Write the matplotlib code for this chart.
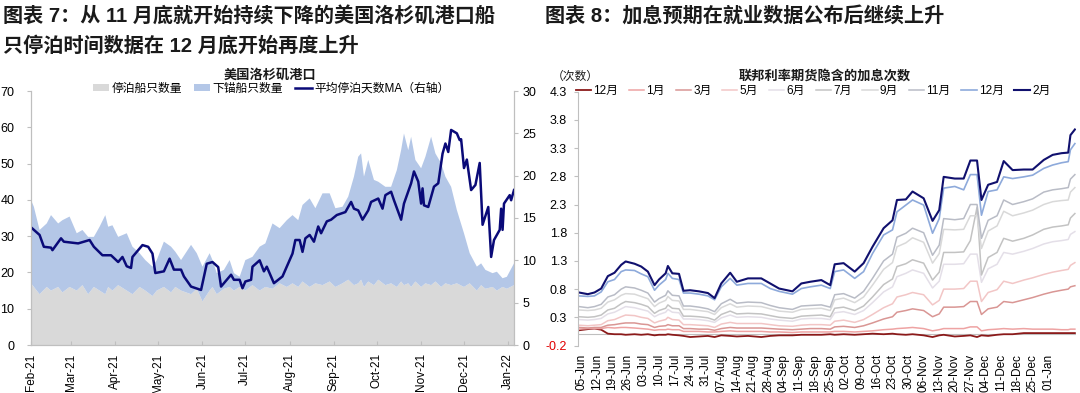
import matplotlib
matplotlib.use("Agg")
import matplotlib.pyplot as plt
import matplotlib.dates as mdates
from matplotlib.patches import Patch
from matplotlib.lines import Line2D
import numpy as np
import pandas as pd

plt.rcParams['font.family'] = ['Liberation Sans', 'Noto Sans CJK SC']
plt.rcParams['axes.unicode_minus'] = False

# ---------------- Left chart data: 美国洛杉矶港口 ----------------
area_dates = ['2021-02-01', '2021-02-03', '2021-02-07', '2021-02-12', '2021-02-15', '2021-02-20', '2021-02-23',
              '2021-02-28', '2021-03-05', '2021-03-09', '2021-03-13', '2021-03-17', '2021-03-21', '2021-03-25',
              '2021-03-27', '2021-03-30', '2021-04-03', '2021-04-09', '2021-04-13', '2021-04-18', '2021-04-22',
              '2021-04-27', '2021-04-30', '2021-05-05', '2021-05-10', '2021-05-13', '2021-05-17', '2021-05-24',
              '2021-05-28', '2021-06-01', '2021-06-06', '2021-06-08', '2021-06-11', '2021-06-16', '2021-06-20',
              '2021-06-23', '2021-06-27', '2021-07-01', '2021-07-06', '2021-07-11', '2021-07-15', '2021-07-20',
              '2021-07-25', '2021-07-30', '2021-08-03', '2021-08-07', '2021-08-10', '2021-08-15', '2021-08-19',
              '2021-08-24', '2021-08-29', '2021-09-02', '2021-09-07', '2021-09-11', '2021-09-15', '2021-09-18',
              '2021-09-20', '2021-09-22', '2021-09-25', '2021-09-29', '2021-10-02', '2021-10-07', '2021-10-11',
              '2021-10-15', '2021-10-18', '2021-10-20', '2021-10-23', '2021-10-25', '2021-10-28', '2021-11-01',
              '2021-11-04', '2021-11-08', '2021-11-11', '2021-11-15', '2021-11-18', '2021-11-22', '2021-11-26',
              '2021-12-01', '2021-12-05', '2021-12-10', '2021-12-13', '2021-12-16', '2021-12-21', '2021-12-24',
              '2021-12-28', '2021-12-31', '2022-01-05']
berthed = [17, 16, 14, 16, 15, 16, 14.5,
           16, 15, 16.5, 14, 16, 15, 14,
           16, 15, 16.5, 15, 14, 16, 15,
           13.5, 15, 16, 14.5, 16, 15, 14,
           15.5, 12, 15, 16, 14, 15.5, 16,
           15, 16, 15, 16.5, 15, 16, 15.5,
           17, 16, 17, 16, 17.5, 16, 17,
           16.5, 17.5, 16, 17, 18, 16.5, 17,
           18, 16, 17.5, 16.5, 18, 16.5, 17,
           16, 17.5, 16.5, 17, 16, 17.5, 16,
           17, 16.5, 17.5, 16, 17, 16.5, 17,
           16, 17, 15, 16.5, 15.5, 16, 15,
           16, 15.5, 16.5]
anchored = [23.0, 22.1, 17.7, 17.5, 20.8, 17.5, 19.9,
            19.4, 15.8, 15.2, 15.8, 13.8, 17.6, 21.8,
            16.6, 18.0, 13.3, 15.8, 13.1, 9.3, 8.4,
            8.1, 8.4, 12.5, 12.6, 9.7, 8.4, 13.6,
            9.8, 9.6, 10.3, 7.4, 5.8, 5.2, 7.4,
            4.8, 2.8, 8.4, 7.8, 12.1, 12.0, 18.0,
            15.2, 18.4, 18.8, 18.4, 21.1, 24.4, 20.7,
            25.3, 24.3, 21.7, 21.1, 22.9, 29.9, 34.9,
            34.8, 30.4, 33.5, 29.0, 27.0, 27.1, 26.6,
            32.2, 36.2, 41.8, 36.7, 41.4, 33.5, 32.7,
            34.9, 40.9, 35.3, 34.1, 29.4, 27.1, 20.2,
            14.8, 8.3, 6.6, 6.0, 5.2, 3.8, 5.2,
            2.4, 3.3, 6.0]

ma_dates = ['2021-02-01', '2021-02-07', '2021-02-10', '2021-02-15', '2021-02-16', '2021-02-22', '2021-02-24',
            '2021-03-06', '2021-03-14', '2021-03-17', '2021-03-23', '2021-03-29', '2021-04-03', '2021-04-06',
            '2021-04-09', '2021-04-12', '2021-04-13', '2021-04-20', '2021-04-24', '2021-04-27', '2021-04-29',
            '2021-05-05', '2021-05-09', '2021-05-12', '2021-05-17', '2021-05-19', '2021-05-24', '2021-05-31',
            '2021-06-04', '2021-06-08', '2021-06-12', '2021-06-14', '2021-06-21', '2021-06-23', '2021-06-27',
            '2021-06-29', '2021-07-01', '2021-07-05', '2021-07-06', '2021-07-11', '2021-07-14', '2021-07-16',
            '2021-07-21', '2021-07-27', '2021-08-03', '2021-08-05', '2021-08-08', '2021-08-10', '2021-08-12',
            '2021-08-15', '2021-08-18', '2021-08-21', '2021-08-23', '2021-08-27', '2021-08-30', '2021-09-03',
            '2021-09-09', '2021-09-13', '2021-09-15', '2021-09-18', '2021-09-21', '2021-09-25', '2021-09-27',
            '2021-10-02', '2021-10-05', '2021-10-07', '2021-10-11', '2021-10-13', '2021-10-18', '2021-10-20',
            '2021-10-25', '2021-10-27', '2021-10-30', '2021-11-01', '2021-11-02', '2021-11-03', '2021-11-06',
            '2021-11-10', '2021-11-13', '2021-11-16', '2021-11-18', '2021-11-20', '2021-11-22', '2021-11-26',
            '2021-11-28', '2021-11-29', '2021-12-01', '2021-12-03', '2021-12-06', '2021-12-09', '2021-12-12',
            '2021-12-14', '2021-12-18', '2021-12-20', '2021-12-22', '2021-12-26', '2021-12-27', '2021-12-28',
            '2021-12-29', '2022-01-02', '2022-01-03', '2022-01-05']
ma_days = [13.9, 13.0, 11.6, 11.5, 11.2, 12.6, 12.2,
           12.0, 12.4, 11.6, 10.6, 10.6, 9.8, 10.4,
           9.3, 9.1, 10.4, 11.8, 11.6, 10.8, 8.5,
           8.7, 10.2, 8.9, 8.9, 8.1, 6.9, 6.5,
           9.6, 9.8, 9.2, 6.9, 8.3, 7.7, 7.7,
           6.7, 7.5, 7.7, 9.25, 10.0, 8.7, 9.25,
           7.3, 8.1, 10.8, 12.4, 12.4, 11.0, 12.6,
           13.0, 12.2, 14.0, 13.2, 14.6, 14.8, 15.35,
           15.7, 16.9, 16.1, 15.9, 14.8, 15.9, 16.9,
           17.3, 16.1, 17.7, 18.1, 17.1, 14.8, 16.7,
           19.1, 20.5, 19.3, 16.7, 18.5, 16.5, 16.3,
           18.7, 19.1, 22.6, 23.8, 22.8, 25.4, 25.0,
           24.2, 24.3, 20.9, 21.9, 18.3, 18.9, 21.5,
           14.2, 16.3, 10.4, 12.4, 13.6, 16.1, 13.6,
           16.7, 17.7, 17.1, 18.3]

left_labels = ['停泊船只数量', '下锚船只数量', '平均停泊天数MA（右轴）']

# ---------------- Right chart data: 联邦利率期货隐含的加息次数 ----------------
r_dates = ['2021-06-04', '2021-06-08', '2021-06-11', '2021-06-14', '2021-06-17', '2021-06-20', '2021-06-23',
           '2021-06-25', '2021-06-29', '2021-07-02', '2021-07-05', '2021-07-08', '2021-07-10', '2021-07-13',
           '2021-07-14', '2021-07-16', '2021-07-19', '2021-07-21', '2021-07-24', '2021-07-28', '2021-08-01',
           '2021-08-04', '2021-08-07', '2021-08-11', '2021-08-14', '2021-08-19', '2021-08-25', '2021-08-29',
           '2021-09-02', '2021-09-08', '2021-09-12', '2021-09-16', '2021-09-21', '2021-09-25', '2021-09-27',
           '2021-10-01', '2021-10-06', '2021-10-10', '2021-10-14', '2021-10-19', '2021-10-23', '2021-10-25',
           '2021-10-29', '2021-11-01', '2021-11-06', '2021-11-10', '2021-11-13', '2021-11-15', '2021-11-20',
           '2021-11-24', '2021-11-27', '2021-11-30', '2021-12-02', '2021-12-05', '2021-12-09', '2021-12-12',
           '2021-12-16', '2021-12-21', '2021-12-25', '2021-12-30', '2022-01-03', '2022-01-07', '2022-01-10',
           '2022-01-11', '2022-01-13']
hike_dec21 = [.07, .09, .10, .08, .01, .00, .00, -.01, .00, -.01,
              .00, -.02, -.01, -.01, .00, -.01, -.02, -.03, -.05, -.04,
              -.03, -.05, -.02, -.03, -.04, -.03, -.05, -.03, -.02, -.02,
              -.01, -.01, -.01, .00, -.01, .00, -.01, .00, .01, .00,
              .01, .00, -.01, .00, -.02, -.05, -.02, -.01, -.04, -.03,
              -.02, -.05, -.02, -.03, -.01, .00, .00, .02, .02, .02,
              .02, .02, .02, .02, .02]
hike_jan22 = [.09, .10, .10, .10, .12, .11, .12, .12, .11, .10,
              .09, .07, .08, .08, .09, .08, .08, .05, .05, .05,
              .04, .04, .05, .06, .05, .05, .05, .04, .04, .03,
              .04, .04, .04, .04, .05, .05, .04, .05, .06, .08,
              .09, .10, .11, .12, .10, .06, .08, .10, .10, .10,
              .13, .13, .06, .08, .09, .10, .09, .10, .09, .09,
              .09, .08, .08, .09, .09]
hike_mar22 = [.12, .11, .12, .12, .16, .17, .19, .20, .20, .18,
              .17, .12, .14, .15, .17, .15, .15, .10, .10, .09,
              .09, .07, .10, .12, .11, .11, .11, .10, .09, .08,
              .09, .10, .10, .09, .13, .14, .12, .15, .20, .27,
              .31, .39, .42, .45, .42, .31, .36, .48, .48, .49,
              .58, .58, .35, .45, .48, .58, .56, .61, .65, .71,
              .75, .78, .80, .84, .86]
hike_may22 = [.16, .15, .16, .17, .24, .26, .31, .34, .33, .30,
              .28, .20, .23, .26, .30, .26, .25, .17, .17, .16,
              .15, .12, .18, .21, .19, .19, .19, .17, .15, .14,
              .16, .17, .17, .16, .23, .25, .21, .26, .35, .47,
              .54, .66, .70, .74, .70, .52, .60, .80, .80, .81,
              .94, .94, .58, .74, .79, .94, .90, .96, 1.00, 1.06,
              1.10, 1.13, 1.15, 1.22, 1.27]
hike_jun22 = [.26, .25, .26, .28, .36, .39, .45, .49, .47, .44,
              .41, .31, .35, .39, .44, .39, .38, .27, .27, .26,
              .24, .21, .29, .34, .30, .31, .30, .27, .25, .23,
              .27, .28, .28, .26, .38, .40, .35, .42, .56, .75,
              .84, 1.02, 1.08, 1.14, 1.08, .82, .94, 1.24, 1.24, 1.25,
              1.42, 1.42, .92, 1.16, 1.24, 1.45, 1.42, 1.47, 1.52, 1.60,
              1.64, 1.66, 1.68, 1.77, 1.82]
hike_jul22 = [.31, .30, .31, .34, .43, .46, .54, .58, .56, .53,
              .49, .37, .42, .46, .52, .46, .45, .32, .32, .31,
              .29, .25, .35, .41, .36, .37, .36, .33, .30, .28,
              .32, .33, .34, .31, .46, .48, .42, .50, .66, .88,
              .98, 1.20, 1.25, 1.32, 1.26, .96, 1.10, 1.45, 1.45, 1.46,
              1.66, 2.25, 1.05, 1.36, 1.45, 1.70, 1.65, 1.70, 1.76, 1.86,
              1.90, 1.92, 1.94, 2.06, 2.14]
hike_sep22 = [.43, .42, .43, .46, .57, .61, .69, .72, .71, .67,
              .63, .49, .55, .60, .67, .60, .59, .44, .44, .42,
              .40, .35, .47, .54, .48, .50, .49, .45, .41, .39,
              .44, .45, .46, .42, .61, .64, .56, .66, .87, 1.15,
              1.27, 1.55, 1.62, 1.71, 1.63, 1.26, 1.43, 1.86, 1.85, 1.86,
              2.10, 2.10, 1.52, 1.83, 1.92, 2.18, 2.10, 2.15, 2.20, 2.30,
              2.35, 2.37, 2.38, 2.52, 2.60]
hike_nov22 = [.49, .47, .49, .53, .66, .70, .80, .84, .82, .78,
              .73, .57, .63, .69, .77, .69, .68, .50, .50, .48,
              .45, .40, .54, .62, .55, .57, .56, .51, .47, .44,
              .50, .51, .52, .48, .70, .72, .64, .76, .99, 1.30,
              1.42, 1.72, 1.79, 1.88, 1.80, 1.40, 1.58, 2.05, 2.03, 2.05,
              2.30, 2.30, 1.70, 2.02, 2.10, 2.38, 2.30, 2.35, 2.40, 2.52,
              2.56, 2.58, 2.60, 2.75, 2.83]
hike_dec22 = [.68, .67, .68, .75, .93, .97, 1.11, 1.14, 1.13, 1.07,
              1.02, .78, .87, .97, 1.08, .99, .97, .73, .73, .71,
              .68, .61, .84, .99, .87, .90, .90, .81, .76, .71,
              .81, .84, .87, .81, 1.11, 1.14, .99, 1.11, 1.43, 1.76,
              1.85, 2.17, 2.29, 2.38, 2.29, 1.79, 2.05, 2.59, 2.62, 2.56,
              2.83, 2.83, 2.11, 2.53, 2.56, 2.79, 2.76, 2.79, 2.82, 2.94,
              3.00, 3.04, 3.06, 3.27, 3.38]
hike_feb23 = [.74, .71, .74, .81, 1.03, 1.09, 1.23, 1.29, 1.25, 1.20,
              1.11, .87, .97, 1.08, 1.21, 1.08, 1.07, .77, .78, .76,
              .73, .64, .90, 1.09, .93, .99, .99, .90, .81, .76,
              .90, .93, .96, .87, 1.24, 1.26, 1.11, 1.26, 1.55, 1.88,
              2.02, 2.38, 2.39, 2.53, 2.41, 2.01, 2.20, 2.79, 2.76, 2.76,
              3.08, 3.08, 2.38, 2.65, 2.70, 3.07, 2.91, 2.92, 2.92, 3.09,
              3.18, 3.21, 3.22, 3.53, 3.63]
right_labels = ['12月', '1月', '3月', '5月', '6月', '7月', '9月', '11月', '12月', '2月']
right_series = [hike_dec21, hike_jan22, hike_mar22, hike_may22, hike_jun22,
                hike_jul22, hike_sep22, hike_nov22, hike_dec22, hike_feb23]
right_colors = ['#8b1a1a', '#eea3a3', '#d99694', '#f2c6c6', '#e4dfe8',
                '#c3c3c3', '#d9d9d9', '#b9bcc6', '#8eaadb', '#10106e']
right_widths = [1.3, 1.1, 1.1, 1.1, 1.1, 1.1, 1.1, 1.1, 1.2, 1.5]

W, H = 1080, 393
fig = plt.figure(figsize=(W / 100, H / 100), dpi=100)

def fx(px):
    return px / W

def fy(py):
    return 1 - py / H

# ---- Titles ----
fig.text(fx(3), fy(16), '图表 7：从 11 月底就开始持续下降的美国洛杉矶港口船',
         fontsize=14.5, fontweight='bold', ha='left', va='center', color='#1a1a1a')
fig.text(fx(3), fy(46), '只停泊时间数据在 12 月底开始再度上升',
         fontsize=14.5, fontweight='bold', ha='left', va='center', color='#1a1a1a')
fig.text(fx(545), fy(16), '图表 8：加息预期在就业数据公布后继续上升',
         fontsize=14.5, fontweight='bold', ha='left', va='center', color='#1a1a1a')

grey_axis = '#bfbfbf'

# ---- Left chart ----
ax1 = fig.add_axes([fx(31), fy(345), fx(514) - fx(31), fy(91) - fy(345)])
ad = pd.to_datetime(area_dates)
ax1.stackplot(ad, berthed, anchored, colors=['#d9d9d9', '#b4c7e7'], linewidth=0)
ax1.set_ylim(0, 70)
ax1.set_yticks(np.arange(0, 71, 10))
ax1.set_xlim(pd.Timestamp('2021-02-01'), pd.Timestamp('2022-01-05'))
ax1.xaxis.set_major_locator(mdates.MonthLocator())
ax1.xaxis.set_major_formatter(mdates.DateFormatter('%b-%y'))
for lbl in ax1.get_xticklabels():
    lbl.set_rotation(90)
ax1.tick_params(axis='x', labelsize=8.5, length=3, direction='in', color=grey_axis, pad=6)
ax1.tick_params(axis='y', labelsize=9, length=3, color=grey_axis, pad=9)
ax1.spines['top'].set_visible(False)
for s in ['left', 'bottom', 'right']:
    ax1.spines[s].set_color(grey_axis)
    ax1.spines[s].set_linewidth(0.8)

ax1r = ax1.twinx()
ax1r.plot(pd.to_datetime(ma_dates), ma_days, color='#0a0a78', lw=1.8)
ax1r.set_ylim(0, 30)
ax1r.set_yticks(np.arange(0, 31, 5))
ax1r.tick_params(axis='y', labelsize=9, length=3, color=grey_axis, pad=3)
ax1r.spines['top'].set_visible(False)
for s in ['left', 'bottom', 'right']:
    ax1r.spines[s].set_color(grey_axis)
    ax1r.spines[s].set_linewidth(0.8)

fig.text(fx(270), fy(75), '美国洛杉矶港口', fontsize=9.5, fontweight='bold',
         ha='center', va='center', color='#1a1a1a')
left_handles = [Patch(facecolor='#d9d9d9', edgecolor='none'),
                Patch(facecolor='#b4c7e7', edgecolor='none'),
                Line2D([], [], color='#0a0a78', lw=1.8)]
fig.legend(left_handles, left_labels, loc='center', bbox_to_anchor=(fx(271), fy(89)),
           ncol=3, frameon=False, fontsize=8.5, handlelength=1.4, handleheight=0.5,
           handletextpad=0.2, columnspacing=1.0, borderpad=0)

# ---- Right chart ----
ax2 = fig.add_axes([fx(578), fy(345.5), fx(1076) - fx(578), fy(91.7) - fy(345.5)])
rd = pd.to_datetime(r_dates)
for vals, col, lw, lab in zip(right_series, right_colors, right_widths, right_labels):
    ax2.plot(rd, vals, color=col, lw=lw, label=lab)
ax2.axhline(0, color=grey_axis, lw=0.8, zorder=0)
ax2.set_ylim(-0.2, 4.3)
yt = np.round(np.arange(-0.2, 4.31, 0.5), 1)
ax2.set_yticks(yt)
ax2.set_yticklabels([f'{v:.1f}' for v in yt])
ax2.get_yticklabels()[0].set_color('#e00000')
ax2.set_xlim(pd.Timestamp('2021-06-03 14:00'), pd.Timestamp('2022-01-13 12:00'))
wk = pd.date_range('2021-06-05', '2022-01-01', freq='7D')
ax2.set_xticks(wk)
ax2.xaxis.set_major_formatter(mdates.DateFormatter('%d-%b'))
for lbl in ax2.get_xticklabels():
    lbl.set_rotation(90)
ax2.tick_params(axis='x', labelsize=8.5, length=0, pad=6)
ax2.tick_params(axis='y', labelsize=9, length=3, color=grey_axis, pad=5)
for s in ['top', 'right', 'bottom']:
    ax2.spines[s].set_visible(False)
ax2.spines['left'].set_color(grey_axis)
ax2.spines['left'].set_linewidth(0.8)

fig.text(fx(825), fy(76), '联邦利率期货隐含的加息次数', fontsize=9.5, fontweight='bold',
         ha='center', va='center', color='#1a1a1a')
fig.text(fx(575), fy(77), '（次数）', fontsize=8.5, ha='center', va='center', color='#1a1a1a')
r_handles = [Line2D([], [], color=c, lw=w) for c, w in zip(right_colors, right_widths)]
fig.legend(r_handles, right_labels, loc='center', bbox_to_anchor=(fx(813), fy(91)),
           ncol=10, frameon=False, fontsize=8.5, handlelength=1.3,
           handletextpad=0.2, columnspacing=0.9, borderpad=0)

fig.savefig('out.png', dpi=100)
